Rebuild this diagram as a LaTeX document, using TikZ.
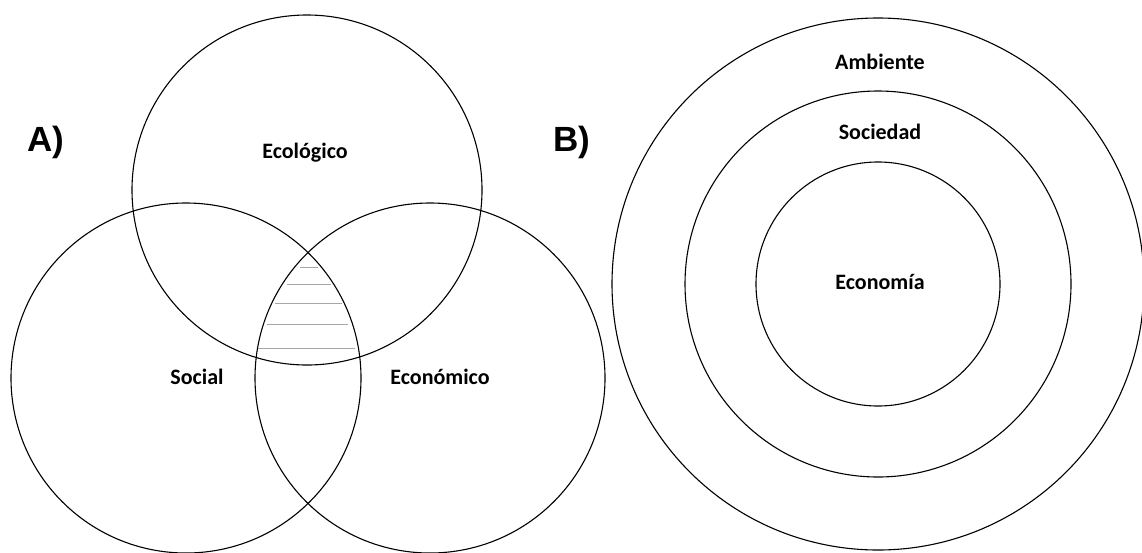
\documentclass[tikz,border=0pt]{standalone}
\usepackage{fontspec}
\setmainfont{Carlito}
\newfontfamily\arialfont{Liberation Sans}
\begin{document}
\begin{tikzpicture}[x=1pt,y=-1pt,
  ring/.style={draw=black,line width=1.1pt},
  lbl/.style={font=\fontsize{22}{24}\selectfont\bfseries,inner sep=0pt,anchor=base},
  big/.style={font=\arialfont\fontsize{35}{38}\selectfont\bfseries,inner sep=0pt},
  hatch/.style={draw=gray!70,line width=0.9pt}]
\useasboundingbox (0,0) rectangle (1142,552);
% A) Venn diagram
\draw[ring] (307,190) circle[radius=175pt];
\draw[ring] (186,378) circle[radius=175pt];
\draw[ring] (430,378) circle[radius=175pt];
\foreach \y/\a/\b in {267/300/318, 284/287/331, 303/275/342, 324/267/348, 348/258/355}
  \draw[hatch] (\a,\y) -- (\b,\y);
\node[lbl] (eco) at (305,158) {Ecológico};
\node[lbl] (soc) at (197,384) {Social};
\node[lbl] (ecn) at (440,384) {Económico};
\node[big] (A) at (46,142) {A)};
% B) nested circles
\draw[ring] (878,284) circle[radius=266pt];
\draw[ring] (878,284) circle[radius=193pt];
\draw[ring] (878,284) circle[radius=122pt];
\node[lbl] (amb) at (880,69) {Ambiente};
\node[lbl] (sde) at (880,139) {Sociedad};
\node[lbl] (ecm) at (880,289) {Economía};
\node[big] (B) at (572,142) {B)};
\end{tikzpicture}
\end{document}
